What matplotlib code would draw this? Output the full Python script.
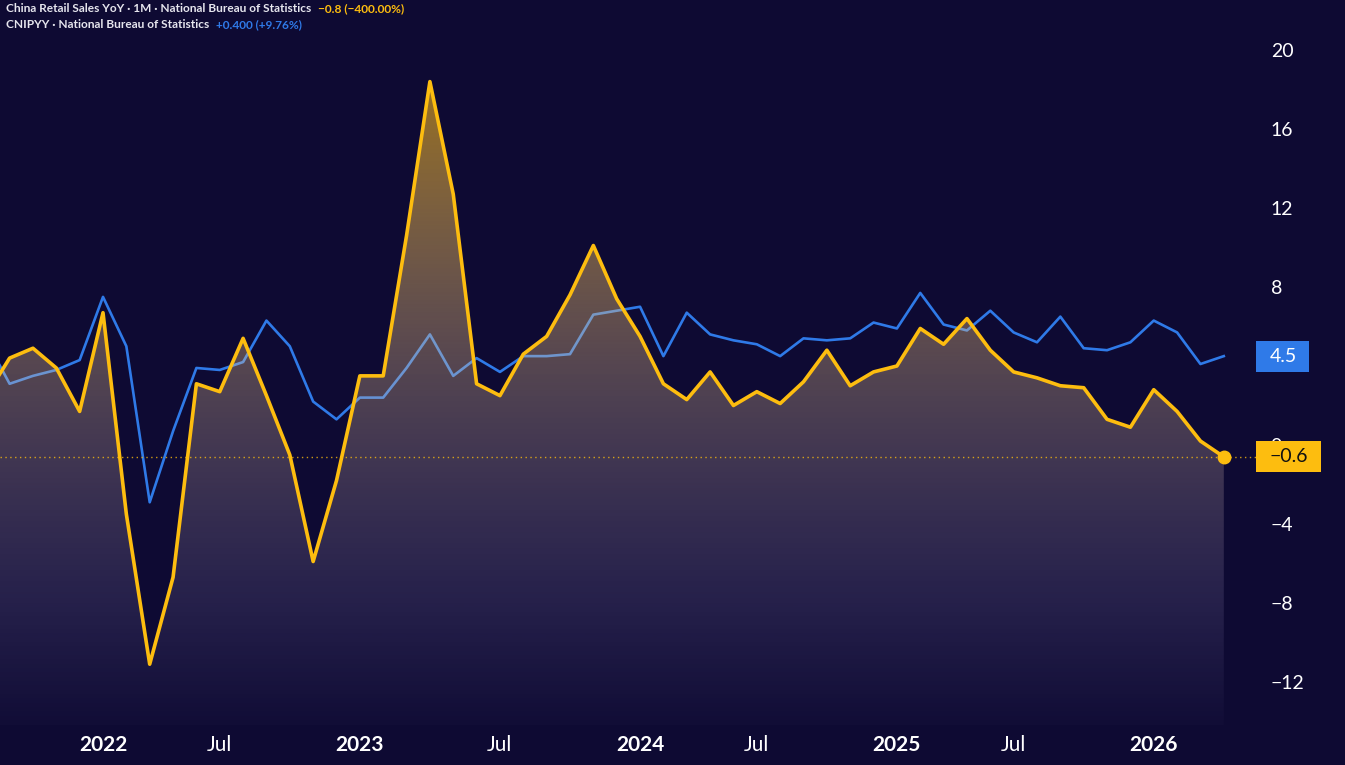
import numpy as np
import matplotlib
matplotlib.use('Agg')
import matplotlib.pyplot as plt
from matplotlib.patches import Polygon, Rectangle
import matplotlib.transforms as mtransforms

plt.rcParams['font.family'] = ['Lato', 'DejaVu Sans']

# month index (0 = first bar of 2022), series
months = list(range(-5, 49))
retail = [2.5, 4.4, 4.9, 3.9, 1.7,
          6.7, -3.5, -11.1, -6.7, 3.1, 2.7, 5.4, 2.5, -0.5, -5.9, -1.8,
          3.5, 3.5, 10.6, 18.4, 12.7, 3.1, 2.5, 4.6, 5.5, 7.6, 10.1, 7.4,
          5.5, 3.1, 2.3, 3.7, 2.0, 2.7, 2.1, 3.2, 4.8, 3.0, 3.7,
          4.0, 5.9, 5.1, 6.4, 4.8, 3.7, 3.4, 3.0, 2.9, 1.3, 0.9,
          2.8, 1.7, 0.2, -0.6]
indprod = [5.3, 3.1, 3.5, 3.8, 4.3,
           7.5, 5.0, -2.9, 0.7, 3.9, 3.8, 4.2, 6.3, 5.0, 2.2, 1.3,
           2.4, 2.4, 3.9, 5.6, 3.5, 4.4, 3.7, 4.5, 4.5, 4.6, 6.6, 6.8,
           7.0, 4.5, 6.7, 5.6, 5.3, 5.1, 4.5, 5.4, 5.3, 5.4, 6.2,
           5.9, 7.7, 6.1, 5.8, 6.8, 5.7, 5.2, 6.5, 4.9, 4.8, 5.2,
           6.3, 5.7, 4.1, 4.5]
tick_pos = [0, 5, 11, 17, 23, 28, 34, 39, 45]
tick_labels = ['2022', 'Jul', '2023', 'Jul', '2024', 'Jul', '2025', 'Jul', '2026']
yticks = [-12, -8, -4, 0, 4, 8, 12, 16, 20]
ytick_labels = ['\u221212', '\u22128', '\u22124', '0', '', '8', '12', '16', '20']  # 4 sits under the 4.5 box

BG = '#0e0a33'
ORANGE = '#fdbd0f'
BLUE = '#2f7ae8'

fig = plt.figure(figsize=(13.45, 7.65), dpi=100)
fig.patch.set_facecolor(BG)
ax = fig.add_axes([0, 40 / 765, 1250 / 1345, 725 / 765])
ax.set_facecolor(BG)
for s in ax.spines.values():
    s.set_visible(False)

xlim = (-103 / 23.35, (1250 - 103) / 23.35)
ylim = ((445 - 725) / 19.75, 445 / 19.75)

# blue line underneath the fill
ax.plot(months, indprod, color=BLUE, lw=1.9, zorder=2, solid_joinstyle='round')

# gradient area under retail sales
top = max(retail)
bot = ylim[0]
vals = np.linspace(top, bot, 300)
stops_v = [top, 4.0, -8.0, bot]
stops_c = [(255, 188, 20, 0.58), (255, 212, 150, 0.30), (200, 185, 235, 0.13), (190, 180, 235, 0.02)]
grad = np.zeros((len(vals), 1, 4))
for k in range(4):
    comp = [c[k] / 255 if k < 3 else c[k] for c in stops_c]
    grad[:, 0, k] = np.interp(vals, stops_v[::-1], comp[::-1])
poly = list(zip(months, retail)) + [(months[-1], bot), (months[0], bot)]
patch = Polygon(poly, closed=True, facecolor='none', edgecolor='none')
ax.add_patch(patch)
im = ax.imshow(grad, extent=[months[0], months[-1], bot, top], aspect='auto',
               origin='upper', zorder=3, interpolation='bilinear')
im.set_clip_path(patch)

# last value dotted line
bt = mtransforms.blended_transform_factory(ax.transAxes, ax.transData)
ax.plot([0, 1256 / 1250], [retail[-1], retail[-1]], transform=bt, color=ORANGE,
        lw=1, ls=(0, (1, 2.5)), alpha=0.8, zorder=3.5, clip_on=False)

ax.plot(months, retail, color=ORANGE, lw=2.6, zorder=4, solid_joinstyle='round')
ax.plot(months[-1], retail[-1], 'o', ms=9, color=ORANGE, zorder=5)

ax.set_xlim(xlim)
ax.set_ylim(ylim)

ax.set_xticks(tick_pos)
ax.set_xticklabels(tick_labels)
ax.set_yticks(yticks)
ax.set_yticklabels(ytick_labels)
ax.yaxis.tick_right()
ax.tick_params(axis='y', length=0, pad=15, labelsize=14, labelcolor='white')
ax.tick_params(axis='x', length=0, pad=7, labelsize=15, labelcolor='white')
for lab in ax.get_xticklabels():
    if lab.get_text() != 'Jul':
        lab.set_fontweight('bold')

# price labels on the scale
def price_box(value, text, face, fg, width):
    ax.add_patch(Rectangle((1256 / 1250, value - 15.5 / 19.75), width / 1250, 31 / 19.75,
                           transform=bt, facecolor=face, edgecolor='none',
                           zorder=10, clip_on=False))
    ax.text(1270 / 1250, value, text, transform=bt, ha='left', va='center',
            fontsize=14, color=fg, zorder=11, clip_on=False)

price_box(indprod[-1], '4.5', BLUE, 'white', 53)
price_box(retail[-1], '\u22120.6', ORANGE, '#111111', 65)

# header legend
renderer = fig.canvas.get_renderer()
def header(y, parts):
    x = 6
    for txt, col in parts:
        t = fig.text(x / 1345, 1 - y / 765, txt, color=col, fontsize=8.6,
                     fontweight='bold', va='center', ha='left')
        bb = t.get_window_extent(renderer)
        x = bb.x1 + 7

header(9, [('China Retail Sales YoY \u00b7 1M \u00b7 National Bureau of Statistics', '#e6e6ee'),
           ('\u22120.8 (\u2212400.00%)', ORANGE)])
header(25, [('CNIPYY \u00b7 National Bureau of Statistics', '#e6e6ee'),
            ('+0.400 (+9.76%)', BLUE)])

fig.savefig('out.png', dpi=100, facecolor=BG)
